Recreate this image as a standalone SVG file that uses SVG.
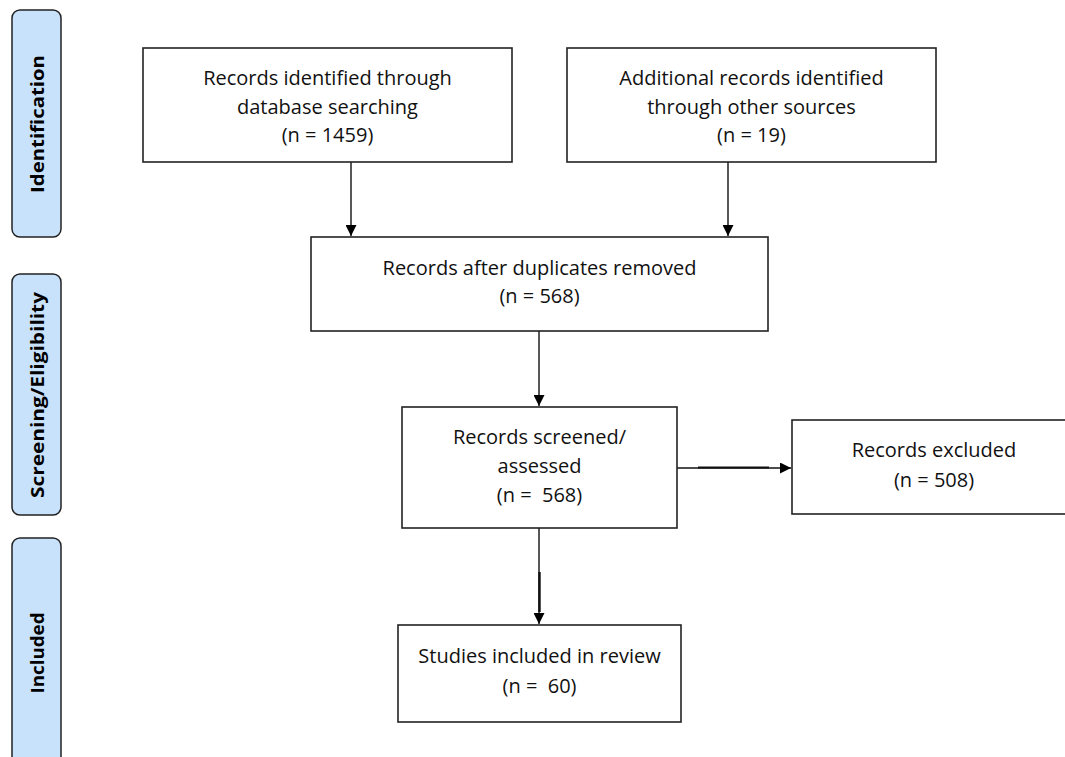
<svg xmlns="http://www.w3.org/2000/svg" width="1065" height="757" viewBox="0 0 1065 757">
<style>
.box{fill:#fff;stroke:#222;stroke-width:1.6}
.side{fill:#c9e2fb;stroke:#222;stroke-width:1.5}
.t{font-family:"Open Sans","Liberation Sans",sans-serif;font-size:20px;fill:#111;text-anchor:middle}
.s{font-family:"Open Sans","Liberation Sans",sans-serif;font-size:18px;font-weight:bold;fill:#000;text-anchor:middle}
.c{stroke:#111;stroke-width:1.4;fill:none}
</style>
<defs>
<marker id="ah" viewBox="0 0 10 10" refX="10" refY="5" markerWidth="11" markerHeight="11" markerUnits="userSpaceOnUse" orient="auto">
<path d="M0,0 L10,5 L0,10 z" fill="#000"/>
</marker>
</defs>
<rect width="1065" height="757" fill="#fff"/>
<g id="side-identification">
<rect class="side" x="12" y="10" width="49" height="227" rx="8"/>
<text class="s" transform="translate(44,124) rotate(-90)" textLength="138" lengthAdjust="spacingAndGlyphs">Identification</text>
</g>
<g id="side-screening">
<rect class="side" x="12" y="274" width="49" height="241" rx="8"/>
<text class="s" transform="translate(44,395) rotate(-90)" textLength="206" lengthAdjust="spacingAndGlyphs">Screening/Eligibility</text>
</g>
<g id="side-included">
<rect class="side" x="12" y="538" width="49" height="240" rx="8"/>
<text class="s" transform="translate(44,653) rotate(-90)" textLength="81" lengthAdjust="spacingAndGlyphs">Included</text>
</g>
<g id="connectors">
<line class="c" x1="351" y1="162" x2="351" y2="236" marker-end="url(#ah)"/>
<line class="c" x1="728" y1="162" x2="728" y2="236" marker-end="url(#ah)"/>
<line class="c" x1="539" y1="331" x2="539" y2="406" marker-end="url(#ah)"/>
<line class="c" x1="677" y1="468" x2="791" y2="468" marker-end="url(#ah)"/>
<line x1="698" y1="467.5" x2="769" y2="467.5" stroke="#111" stroke-width="2.2"/>
<line class="c" x1="539" y1="528" x2="539" y2="624" marker-end="url(#ah)"/>
<line x1="539.5" y1="572" x2="539.5" y2="612" stroke="#111" stroke-width="2.4"/>
</g>
<g id="n-database">
<rect class="box" x="143" y="48" width="369" height="114"/>
<text class="t" x="327.5" y="85">Records identified through</text>
<text class="t" x="327.5" y="113.5">database searching</text>
<text class="t" x="327.5" y="142">(n = 1459)</text>
</g>
<g id="n-other">
<rect class="box" x="567" y="48" width="369" height="114"/>
<text class="t" x="751.5" y="85">Additional records identified</text>
<text class="t" x="751.5" y="113.5">through other sources</text>
<text class="t" x="751.5" y="142">(n = 19)</text>
</g>
<g id="n-dedup">
<rect class="box" x="311" y="237" width="457" height="94"/>
<text class="t" x="539.5" y="275">Records after duplicates removed</text>
<text class="t" x="539.5" y="303">(n = 568)</text>
</g>
<g id="n-screened">
<rect class="box" x="402" y="407" width="275" height="121"/>
<text class="t" x="539.5" y="444">Records screened/</text>
<text class="t" x="539.5" y="473">assessed</text>
<text class="t" x="539.5" y="502" xml:space="preserve">(n =  568)</text>
</g>
<g id="n-excluded">
<rect class="box" x="792" y="420" width="290" height="94"/>
<text class="t" x="934" y="457">Records excluded</text>
<text class="t" x="934" y="487">(n = 508)</text>
</g>
<g id="n-included">
<rect class="box" x="398" y="625" width="283" height="97"/>
<text class="t" x="539.5" y="663">Studies included in review</text>
<text class="t" x="539.5" y="693" xml:space="preserve">(n =  60)</text>
</g>
</svg>
